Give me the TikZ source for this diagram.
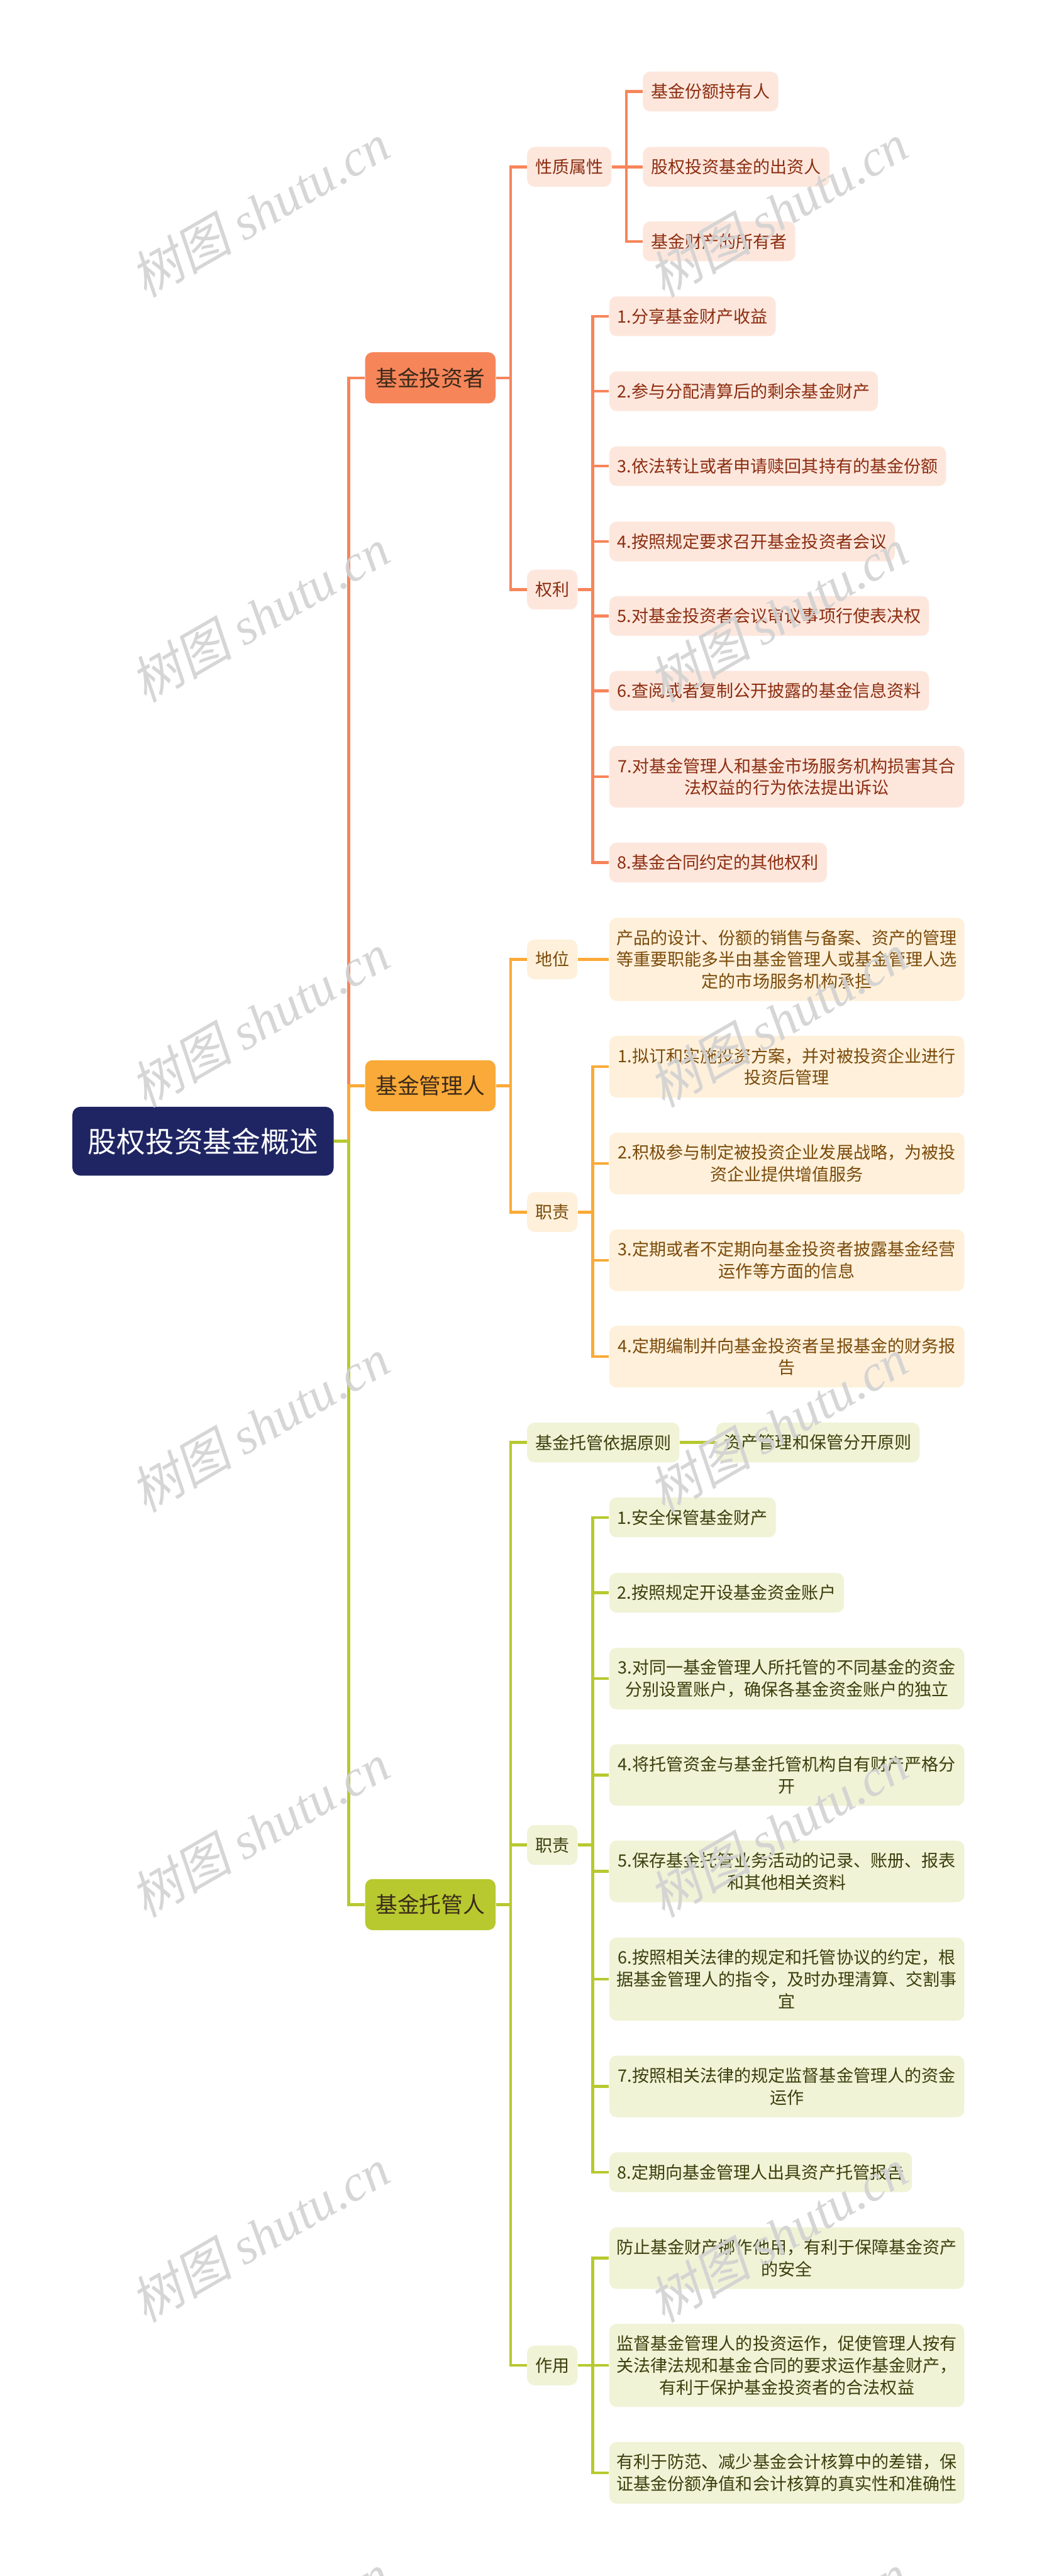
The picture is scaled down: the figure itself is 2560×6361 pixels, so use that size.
\documentclass[tikz,border=0pt]{standalone}
\usepackage{fontspec}
\setmainfont{Noto Sans CJK SC}
\newfontfamily\wmlatin{Liberation Serif}
\newfontfamily\wmcjk[FakeSlant=0.2]{Noto Sans CJK SC}
\usetikzlibrary{calc,backgrounds}
\definecolor{navy}{HTML}{1F2563}
\definecolor{coral}{HTML}{F7855A}
\definecolor{orng}{HTML}{FAAA38}
\definecolor{grn}{HTML}{B7C92F}
\definecolor{ifill}{HTML}{FDE7DD}
\definecolor{itext}{HTML}{8C2D10}
\definecolor{mfill}{HTML}{FEF0DA}
\definecolor{mtext}{HTML}{7A4A0A}
\definecolor{cfill}{HTML}{F0F3D6}
\definecolor{ctext}{HTML}{3B3F0C}
\definecolor{ltext}{HTML}{3B2A1A}
\definecolor{wmgray}{HTML}{D2D2D2}
\tikzset{
  x=0.01cm, y=-0.01cm,
  box/.style={rectangle, rounded corners=0.18cm, anchor=west, inner ysep=0pt},
  leaf/.style={box, font=\fontsize{11.95pt}{15.36pt}\selectfont, inner xsep=0.2cm, minimum height=0.98cm},
  wide/.style={text width=8.4cm, align=center, inner xsep=0.18cm},
  two/.style={minimum height=1.52cm},
  three/.style={minimum height=2.05cm},
  ileaf/.style={leaf, fill=ifill, text=itext},
  mleaf/.style={leaf, fill=mfill, text=mtext},
  cleaf/.style={leaf, fill=cfill, text=ctext},
  lone/.style={box, font=\fontsize{15.36pt}{18pt}\selectfont, inner xsep=0.26cm, minimum height=1.26cm, text=ltext},
  rootbox/.style={box, rounded corners=0.2cm, fill=navy, text=white, font=\fontsize{20.2pt}{24pt}\selectfont, inner xsep=0.385cm, minimum height=1.7cm},
  conn/.style={line width=0.07cm},
  wm/.style={rotate=30, text=wmgray, text opacity=0.9, font=\fontsize{36pt}{40pt}\selectfont}
}
\newcommand\mmlink[4]{\draw[conn,#1] let \p1=(#2.east), \p2=(#3.west) in (\p1) -- (\x2-0.4cm,\y1) -- (\x2-0.4cm,\y2) [rounded corners=#4] -- (\p2);}
\newcommand\mmstraight[3]{\draw[conn,#1] (#2.east) -- (#3.west);}
\begin{document}
\begin{tikzpicture}
\useasboundingbox (0,0) rectangle (2560,6361);

% root and main branches
\node[rootbox] (root) at (178,2818) {股权投资基金概述};
\node[lone, fill=coral] (inv) at (901,933) {基金投资者};
\node[lone, fill=orng] (mgr) at (901,2681) {基金管理人};
\node[lone, fill=grn] (cus) at (901,4703) {基金托管人};

% investor
\node[ileaf] (xz) at (1301,412) {性质属性};
\node[ileaf] (ql) at (1301,1456) {权利};
\node[ileaf] (xz1) at (1587,226) {基金份额持有人};
\node[ileaf] (xz2) at (1587,412) {股权投资基金的出资人};
\node[ileaf] (xz3) at (1587,596) {基金财产的所有者};
\node[ileaf] (ql1) at (1504,781) {1.分享基金财产收益};
\node[ileaf] (ql2) at (1504,966) {2.参与分配清算后的剩余基金财产};
\node[ileaf] (ql3) at (1504,1151) {3.依法转让或者申请赎回其持有的基金份额};
\node[ileaf] (ql4) at (1504,1337) {4.按照规定要求召开基金投资者会议};
\node[ileaf] (ql5) at (1504,1521) {5.对基金投资者会议审议事项行使表决权};
\node[ileaf] (ql6) at (1504,1706) {6.查阅或者复制公开披露的基金信息资料};
\node[ileaf,wide,two] (ql7) at (1504,1918) {7.对基金管理人和基金市场服务机构损害其合\\法权益的行为依法提出诉讼};
\node[ileaf] (ql8) at (1504,2130) {8.基金合同约定的其他权利};

% manager
\node[mleaf] (dw) at (1301,2369) {地位};
\node[mleaf] (mz) at (1301,2993) {职责};
\node[mleaf,wide,three] (dw1) at (1504,2369) {产品的设计、份额的销售与备案、资产的管理\\等重要职能多半由基金管理人或基金管理人选\\定的市场服务机构承担};
\node[mleaf,wide,two] (mz1) at (1504,2634) {1.拟订和实施投资方案，并对被投资企业进行\\投资后管理};
\node[mleaf,wide,two] (mz2) at (1504,2873) {2.积极参与制定被投资企业发展战略，为被投\\资企业提供增值服务};
\node[mleaf,wide,two] (mz3) at (1504,3112) {3.定期或者不定期向基金投资者披露基金经营\\运作等方面的信息};
\node[mleaf,wide,two] (mz4) at (1504,3350) {4.定期编制并向基金投资者呈报基金的财务报\\告};

% custodian
\node[cleaf] (yj) at (1301,3562) {基金托管依据原则};
\node[cleaf] (yj1) at (1768,3562) {资产管理和保管分开原则};
\node[cleaf] (cz) at (1301,4556) {职责};
\node[cleaf] (cz1) at (1504,3747) {1.安全保管基金财产};
\node[cleaf] (cz2) at (1504,3933) {2.按照规定开设基金资金账户};
\node[cleaf,wide,two] (cz3) at (1504,4145) {3.对同一基金管理人所托管的不同基金的资金\\分别设置账户，确保各基金资金账户的独立};
\node[cleaf,wide,two] (cz4) at (1504,4383) {4.将托管资金与基金托管机构自有财产严格分\\开};
\node[cleaf,wide,two] (cz5) at (1504,4621) {5.保存基金托管业务活动的记录、账册、报表\\和其他相关资料};
\node[cleaf,wide,three] (cz6) at (1504,4887) {6.按照相关法律的规定和托管协议的约定，根\\据基金管理人的指令，及时办理清算、交割事\\宜};
\node[cleaf,wide,two] (cz7) at (1504,5152) {7.按照相关法律的规定监督基金管理人的资金\\运作};
\node[cleaf] (cz8) at (1504,5364) {8.定期向基金管理人出具资产托管报告};
\node[cleaf] (zy) at (1301,5841) {作用};
\node[cleaf,wide,two] (zy1) at (1504,5576) {防止基金财产挪作他用，有利于保障基金资产\\的安全};
\node[cleaf,wide,three] (zy2) at (1504,5841) {监督基金管理人的投资运作，促使管理人按有\\关法律法规和基金合同的要求运作基金财产，\\有利于保护基金投资者的合法权益};
\node[cleaf,wide,two] (zy3) at (1504,6106) {有利于防范、减少基金会计核算中的差错，保\\证基金份额净值和会计核算的真实性和准确性};

\begin{pgfonlayer}{background}
\fill[white] (0,0) rectangle (2560,6361);
\mmlink{coral}{root}{inv}{0.3cm}
\mmlink{orng}{root}{mgr}{0.3cm}
\mmlink{grn}{root}{cus}{0.3cm}
% investor
\mmlink{coral}{inv}{xz}{0.3cm}
\mmlink{coral}{inv}{ql}{0.3cm}
\mmlink{coral}{xz}{xz1}{0.2cm}
\mmstraight{coral}{xz}{xz2}
\mmlink{coral}{xz}{xz3}{0.2cm}
\foreach \c in {ql1,ql2,ql3,ql4,ql5,ql6,ql7,ql8}{\mmlink{coral}{ql}{\c}{0.2cm}}
% manager
\mmlink{orng}{mgr}{dw}{0.3cm}
\mmlink{orng}{mgr}{mz}{0.3cm}
\mmstraight{orng}{dw}{dw1}
\foreach \c in {mz1,mz2,mz3,mz4}{\mmlink{orng}{mz}{\c}{0.2cm}}
% custodian
\mmlink{grn}{cus}{yj}{0.3cm}
\mmlink{grn}{cus}{cz}{0.3cm}
\mmlink{grn}{cus}{zy}{0.3cm}
\mmstraight{grn}{yj}{yj1}
\foreach \c in {cz1,cz2,cz3,cz4,cz5,cz6,cz7,cz8}{\mmlink{grn}{cz}{\c}{0.2cm}}
\mmlink{grn}{zy}{zy1}{0.2cm}
\mmstraight{grn}{zy}{zy2}
\mmlink{grn}{zy}{zy3}{0.2cm}
\end{pgfonlayer}

% watermarks
\foreach \yy in {519,1519,2519,3519,4519,5519,6519}{
  \node[wm] (wl\yy) at (641,\yy) {{\wmcjk 树图} {\wmlatin\itshape shutu.cn}};
  \node[wm] (wr\yy) at (1922,\yy) {{\wmcjk 树图} {\wmlatin\itshape shutu.cn}};
}
\end{tikzpicture}
\end{document}
